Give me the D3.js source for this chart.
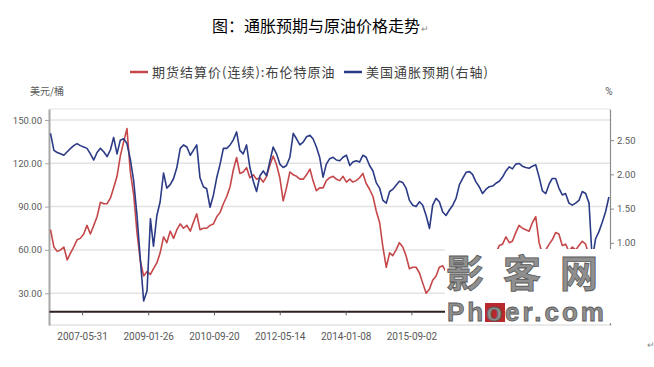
<!DOCTYPE html>
<html>
<head>
<meta charset="utf-8">
<script src="https://cdn.jsdelivr.net/npm/d3@7"></script>
<style>
  body { margin: 0; background: #fff; }
  svg { display: block; font-family: Roboto, "Noto Sans CJK SC", sans-serif; }
</style>
</head>
<body>
<svg id="chart" width="654" height="367"></svg>
<script>
// monthly readings, Aug 2006 .. Aug 2020 (mid-month)
const brent = [
  74, 62, 59, 60, 62,
  53, 58, 62, 67, 68, 71, 77, 71, 77, 83, 93, 92,
  92, 96, 103, 111, 125, 135, 144, 114, 98, 72, 52, 42,
  45, 43, 47, 51, 58, 69, 65, 73, 68, 74, 78, 75,
  77, 73, 79, 85, 74, 75, 75, 77, 78, 83, 86, 92,
  97, 104, 115, 124, 113, 114, 117, 110, 112, 109, 110, 107,
  111, 119, 125, 119, 110, 94, 103, 114, 112, 111, 109, 109,
  112, 116, 108, 101, 103, 103, 108, 110, 111, 109, 108, 111,
  107, 109, 107, 108, 110, 113, 106, 102, 97, 87, 79, 62,
  48, 58, 56, 60, 65, 62, 56, 47, 48, 48, 44, 37,
  30, 33, 39, 42, 48, 49, 45, 47, 47, 51, 46, 55,
  55, 56, 52, 54, 51, 46, 49, 52, 56, 58, 63, 64,
  69, 65, 66, 72, 77, 75, 74, 73, 79, 83, 65, 57,
  60, 64, 67, 72, 71, 63, 64, 59, 62, 60, 63, 66,
  64, 56, 32, 22, 32, 41, 43, 45
];

const breakeven = [
  2.60, 2.35, 2.32, 2.30, 2.28,
  2.33, 2.38, 2.42, 2.45, 2.42, 2.40, 2.38, 2.30, 2.21, 2.32, 2.38, 2.33,
  2.26, 2.36, 2.54, 2.30, 2.50, 2.52, 2.45, 2.22, 1.90, 1.40, 0.75, 0.15,
  0.30, 1.35, 0.95, 1.40, 1.60, 2.02, 1.80, 1.85, 1.94, 2.10, 2.38, 2.43,
  2.40, 2.28, 2.35, 2.43, 1.95, 1.82, 1.79, 1.52, 1.70, 1.95, 2.15, 2.38,
  2.38, 2.43, 2.50, 2.62, 2.35, 2.30, 2.43, 2.10, 1.90, 1.75, 1.98, 2.05,
  1.98, 2.20, 2.40, 2.30, 2.15, 2.10, 2.13, 2.25, 2.60, 2.52, 2.43, 2.47,
  2.55, 2.57, 2.52, 2.40, 2.25, 1.96, 2.15, 2.23, 2.25, 2.21, 2.20, 2.25,
  2.28, 2.13, 2.18, 2.20, 2.18, 2.28, 2.25, 2.13, 2.05, 1.88, 1.80, 1.62,
  1.58, 1.75, 1.78, 1.84, 1.90, 1.88, 1.80, 1.62, 1.55, 1.53, 1.60, 1.55,
  1.40, 1.21, 1.55, 1.65, 1.60, 1.45, 1.40, 1.48, 1.55, 1.65, 1.85, 1.94,
  2.03, 2.04, 2.00, 1.89, 1.82, 1.72, 1.78, 1.82, 1.83, 1.87, 1.90, 1.96,
  2.05, 2.11, 2.08, 2.15, 2.16, 2.12, 2.10, 2.09, 2.12, 2.14, 1.96, 1.76,
  1.72, 1.86, 1.94, 1.94, 1.80, 1.70, 1.72, 1.58, 1.55, 1.58, 1.62, 1.75,
  1.72, 1.58, 0.75, 1.06, 1.16, 1.30, 1.45, 1.67
];

const xTickLabels = ['2007-05-31', '2009-01-26', '2010-09-20', '2012-05-14', '2014-01-08', '2015-09-02'];
const leftTicks = [30, 60, 90, 120, 150];
const rightTicks = [1.0, 1.5, 2.0, 2.5];

const seriesNames = ['期货结算价(连续):布伦特原油', '美国通胀预期(右轴)'];
const seriesColors = ['#c5474a', '#2b3b86'];

const parseDate = d3.timeParse('%Y-%m-%d');
const months = d3.timeMonth.range(new Date(2006, 7, 1), new Date(2020, 8, 1))
  .map(d => d3.timeDay.offset(d, 14));

const plot = { left: 49, right: 610, top: 109, bottom: 325 };

const svg = d3.select('#chart');

const x = d3.scaleTime()
  .domain([new Date(2006, 7, 1), new Date(2020, 7, 25)])
  .range([plot.left, plot.right]);

const yLeft = d3.scaleLinear().domain([8, 157.6]).range([plot.bottom, plot.top]);
const yRight = d3.scaleLinear().domain([-0.2, 2.955]).range([plot.bottom, plot.top]);

// title
svg.append('text')
  .attr('x', 212).attr('y', 32)
  .attr('font-family', '"Noto Sans CJK SC", sans-serif')
  .attr('font-size', 16)
  .attr('fill', '#000')
  .text('图：通胀预期与原油价格走势');
svg.append('text')
  .attr('x', 421).attr('y', 32)
  .attr('font-size', 9)
  .attr('fill', '#888')
  .text('↵');

// legend
const legendItems = [
  { x: 130, name: seriesNames[0], color: seriesColors[0] },
  { x: 344, name: seriesNames[1], color: seriesColors[1] }
];
const legend = svg.append('g');
legendItems.forEach(item => {
  legend.append('line')
    .attr('x1', item.x).attr('x2', item.x + 18)
    .attr('y1', 72).attr('y2', 72)
    .attr('stroke', item.color).attr('stroke-width', 2.5);
  legend.append('text')
    .attr('x', item.x + 22).attr('y', 76.5)
    .attr('font-family', '"Noto Sans CJK SC", sans-serif')
    .attr('font-size', 13)
    .attr('letter-spacing', 1)
    .attr('fill', '#404040')
    .text(item.name);
});

// unit labels
svg.append('text')
  .attr('x', 47).attr('y', 95)
  .attr('text-anchor', 'middle')
  .attr('font-family', '"Noto Sans CJK SC", sans-serif')
  .attr('font-size', 10).attr('fill', '#595959')
  .text('美元/桶');
svg.append('text')
  .attr('x', 609).attr('y', 95)
  .attr('text-anchor', 'middle')
  .attr('font-size', 10).attr('fill', '#595959')
  .text('%');

// gridlines
svg.append('g')
  .selectAll('line')
  .data(leftTicks)
  .enter()
  .append('line')
  .attr('x1', plot.left).attr('x2', plot.right)
  .attr('y1', d => yLeft(d)).attr('y2', d => yLeft(d))
  .attr('stroke', '#e3e3e3').attr('stroke-width', 1.5);

svg.append('line')
  .attr('x1', plot.left).attr('x2', plot.right)
  .attr('y1', plot.top).attr('y2', plot.top)
  .attr('stroke', '#ececec').attr('stroke-width', 1.5);

svg.append('line')
  .attr('x1', plot.left).attr('x2', plot.right)
  .attr('y1', plot.bottom).attr('y2', plot.bottom)
  .attr('stroke', '#e3e3e3').attr('stroke-width', 1.5);

// left axis
const leftAxis = svg.append('g')
  .attr('transform', `translate(${plot.left},0)`)
  .call(d3.axisLeft(yLeft).tickValues(leftTicks).tickFormat(d3.format('.2f')).tickSize(4).tickSizeOuter(0).tickPadding(3));
leftAxis.select('.domain').attr('stroke', '#a6a6a6').attr('stroke-width', 2);
leftAxis.selectAll('.tick line').attr('stroke', '#a6a6a6');
leftAxis.selectAll('text').attr('font-size', 9.5).attr('fill', '#595959').attr('font-family', 'Roboto, sans-serif');

// right axis
const rightAxis = svg.append('g')
  .attr('transform', `translate(${plot.right},0)`)
  .call(d3.axisRight(yRight).tickValues(rightTicks).tickFormat(d3.format('.2f')).tickSize(4).tickSizeOuter(0).tickPadding(3));
rightAxis.select('.domain').attr('stroke', '#8c8c8c').attr('stroke-width', 1.2);
rightAxis.selectAll('.tick line').attr('stroke', '#8c8c8c');
rightAxis.selectAll('text').attr('font-size', 9.5).attr('fill', '#595959').attr('font-family', 'Roboto, sans-serif');

// x axis sits on the zero line of the right axis
const xAxis = svg.append('g')
  .attr('transform', `translate(0,${yRight(0)})`)
  .call(d3.axisBottom(x).tickValues(xTickLabels.map(parseDate)).tickFormat(d3.timeFormat('%Y-%m-%d')).tickSize(4).tickSizeOuter(0).tickPadding(18));
xAxis.select('.domain').attr('stroke', '#2e1f1f').attr('stroke-width', 2);
xAxis.selectAll('.tick line').attr('stroke', '#595959');
xAxis.selectAll('text').attr('font-size', 10).attr('fill', '#595959').attr('font-family', 'Roboto, sans-serif');

// series
const brentData = months.map((d, i) => ({ date: d, value: brent[i] }));
const beData = months.map((d, i) => ({ date: d, value: breakeven[i] }));

const lineLeft = d3.line().x(d => x(d.date)).y(d => yLeft(d.value));
const lineRight = d3.line().x(d => x(d.date)).y(d => yRight(d.value));

svg.append('path')
  .datum(brentData)
  .attr('d', lineLeft)
  .attr('fill', 'none')
  .attr('stroke', seriesColors[0])
  .attr('stroke-width', 1.6)
  .attr('stroke-linejoin', 'round');

svg.append('path')
  .datum(beData)
  .attr('d', lineRight)
  .attr('fill', 'none')
  .attr('stroke', seriesColors[1])
  .attr('stroke-width', 1.6)
  .attr('stroke-linejoin', 'round');

// watermark pasted over the lower right corner
const mark = svg.append('g');
mark.append('rect')
  .attr('x', 445).attr('y', 249).attr('width', 197).attr('height', 74)
  .attr('fill', '#fff');
mark.append('text')
  .attr('x', 446).attr('y', 287)
  .attr('font-family', '"Noto Sans CJK SC", sans-serif')
  .attr('font-weight', 'bold')
  .attr('font-size', 38)
  .attr('letter-spacing', 19)
  .attr('fill', '#8f8f8f')
  .attr('stroke', '#5a5a5a').attr('stroke-width', 0.8)
  .text('影客网');
mark.append('rect')
  .attr('x', 485).attr('y', 303).attr('width', 20).attr('height', 19)
  .attr('fill', '#b8282c');
mark.append('text')
  .attr('x', 447).attr('y', 321)
  .attr('font-family', '"Liberation Sans", sans-serif')
  .attr('font-weight', 'bold')
  .attr('font-size', 26)
  .attr('letter-spacing', 3)
  .attr('fill', '#8f8f8f')
  .attr('stroke', '#5a5a5a').attr('stroke-width', 0.8)
  .text('Phoer.com');

svg.append('text')
  .attr('x', 647).attr('y', 348)
  .attr('font-size', 9).attr('fill', '#888')
  .text('↵');
</script>
</body>
</html>
